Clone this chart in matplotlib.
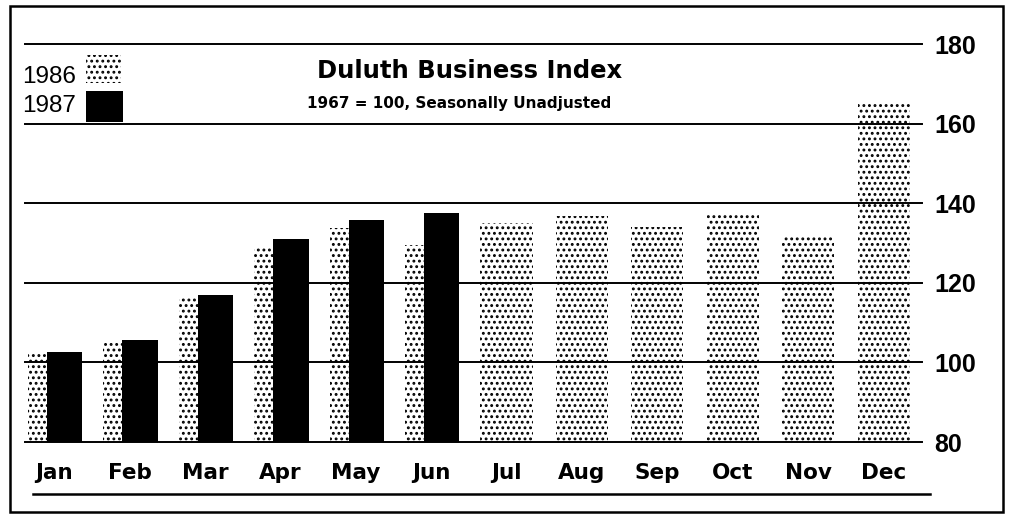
import matplotlib
matplotlib.use("Agg")
import matplotlib.pyplot as plt
from matplotlib.patches import Rectangle
from matplotlib.lines import Line2D
import numpy as np

# ---- data ----
months = ["Jan", "Feb", "Mar", "Apr", "May", "Jun",
          "Jul", "Aug", "Sep", "Oct", "Nov", "Dec"]
index_1986 = [102.7, 105.0, 116.3, 128.8, 133.7, 129.6,
              134.9, 136.9, 133.9, 137.3, 131.4, 164.8]
index_1987 = [102.5, 105.7, 116.9, 131.0, 135.7, 137.5]
yticks = [80, 100, 120, 140, 160, 180]
title = "Duluth Business Index"
subtitle = "1967 = 100, Seasonally Unadjusted"
series_labels = ["1986", "1987"]

plt.rcParams["hatch.linewidth"] = 1.3

W, H = 1011, 515
fig = plt.figure(figsize=(W / 100, H / 100), dpi=100)
fig.patch.set_facecolor("white")


def fx(px):
    return px / W


def fy(py):
    return 1 - py / H


# axes placement (pixel geometry of the reference)
ax_left, ax_right = 25, 922
ax_top, ax_bottom = 44, 442
ax = fig.add_axes([fx(ax_left), fy(ax_bottom), fx(ax_right - ax_left),
                   (ax_bottom - ax_top) / H])

x = np.arange(len(months))
x87 = np.arange(len(index_1987))

ax.bar(x, index_1986, width=0.69, color="white", edgecolor="black",
       hatch="...", linewidth=0, zorder=1)
ax.bar(x87 + 0.14, index_1987, width=0.47, color="black",
       edgecolor="black", linewidth=0, zorder=2)

for v in yticks:
    ax.axhline(v, color="black", lw=1.4, zorder=3, clip_on=False)

ax.set_ylim(80, 180)
ax.set_xlim(-0.385, 11.51)

for s in ax.spines.values():
    s.set_visible(False)

ax.set_xticks(x)
ax.set_xticklabels(months, fontfamily="DejaVu Sans", fontweight="bold",
                   fontsize=15.5)
ax.tick_params(axis="x", length=0, pad=15)

ax.yaxis.tick_right()
ax.set_yticks(yticks)
ax.set_yticklabels([str(v) for v in yticks], fontfamily="Liberation Sans",
                   fontweight="bold", fontsize=18)
ax.tick_params(axis="y", length=0, pad=9, right=False, left=False)

# title and subtitle
fig.text(fx(470), fy(78), title, ha="center", va="baseline",
         fontfamily="DejaVu Sans", fontweight="bold", fontsize=17.5)
fig.text(fx(459), fy(108), subtitle, ha="center", va="baseline",
         fontfamily="DejaVu Sans", fontweight="bold", fontsize=11)

# legend (manual)
fig.text(fx(76), fy(83), series_labels[0], ha="right", va="baseline",
         fontfamily="Liberation Sans", fontsize=17.5)
fig.text(fx(76), fy(112), series_labels[1], ha="right", va="baseline",
         fontfamily="Liberation Sans", fontsize=17.5)
fig.add_artist(Rectangle((fx(86), fy(83)), fx(35), 28 / H,
                         transform=fig.transFigure, facecolor="white",
                         edgecolor="black", hatch="...", linewidth=0))
fig.add_artist(Rectangle((fx(86), fy(122)), fx(37), 31 / H,
                         transform=fig.transFigure, facecolor="black",
                         edgecolor="black", linewidth=0))

# bottom rule under month labels
fig.add_artist(Line2D([fx(33), fx(930)], [fy(494), fy(494)],
                      transform=fig.transFigure, color="black", lw=1.8))

# outer border
fig.add_artist(Rectangle((fx(10), fy(512)), fx(993), 506 / H,
                         transform=fig.transFigure, facecolor="none",
                         edgecolor="black", linewidth=1.8))

fig.savefig("out.png", dpi=100, facecolor="white")
